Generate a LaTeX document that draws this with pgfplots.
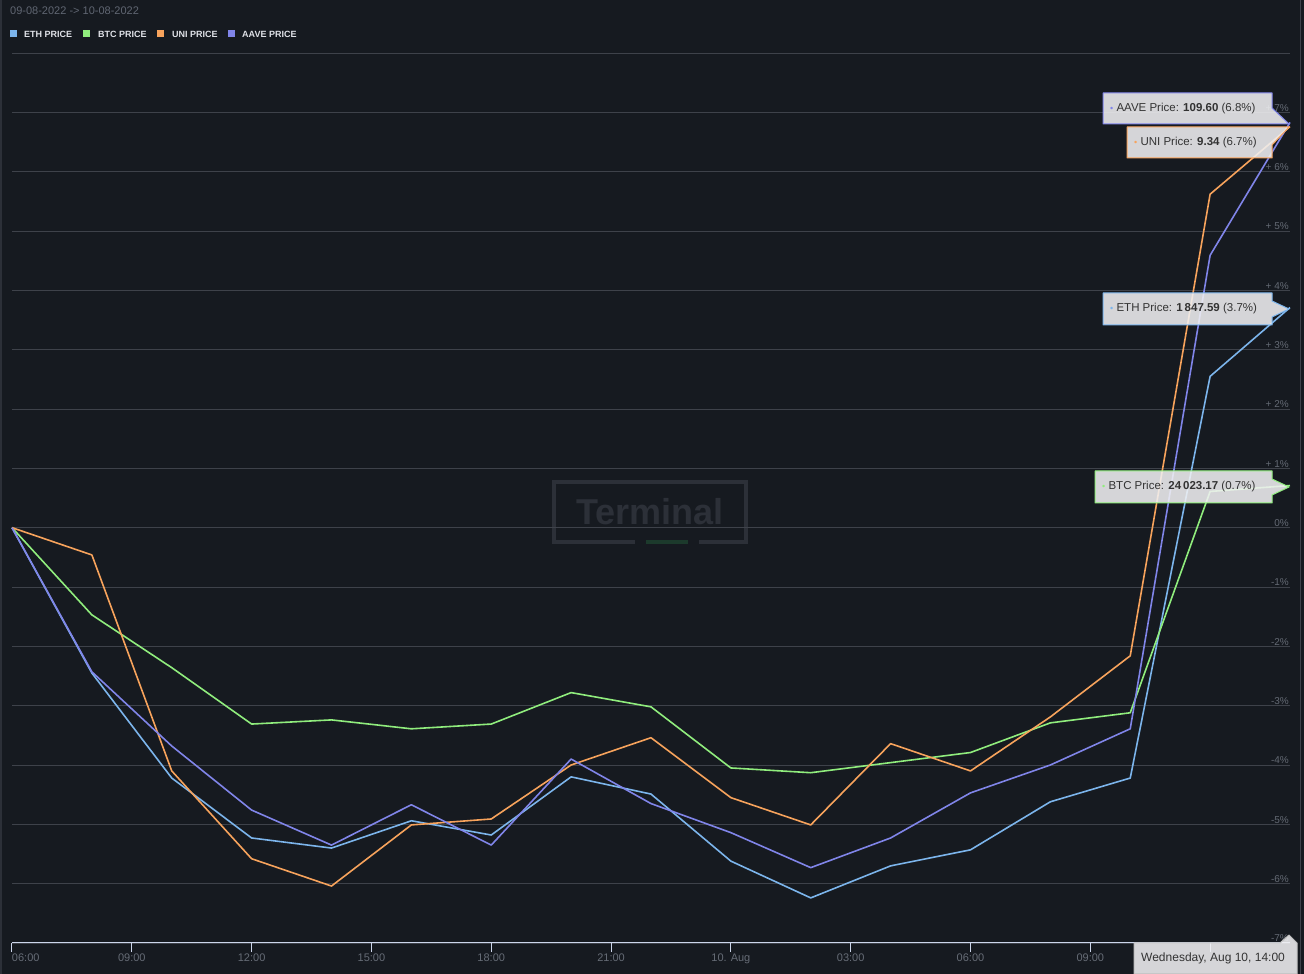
\documentclass[border=0pt]{standalone}
\usepackage{pgfplots}
\pgfplotsset{compat=1.18}
\usepackage{fontspec}
\setmainfont{Liberation Sans}
\definecolor{bg}{RGB}{22,26,32}
\definecolor{gridc}{RGB}{62,66,74}
\definecolor{axisc}{RGB}{204,214,235}
\definecolor{tickc}{RGB}{102,108,118}
\definecolor{ylabc}{RGB}{100,106,116}
\definecolor{titlec}{RGB}{96,102,114}
\definecolor{legc}{RGB}{224,226,232}
\definecolor{wm}{RGB}{44,48,56}
\definecolor{wmgreen}{RGB}{28,58,44}
\definecolor{ethc}{HTML}{7CB5EC}
\definecolor{btcc}{HTML}{90ED7D}
\definecolor{unic}{HTML}{F7A35C}
\definecolor{aavec}{HTML}{8085E9}
\definecolor{ttfill}{RGB}{240,240,242}
\definecolor{tttext}{RGB}{51,51,51}
\begin{document}
\begin{tikzpicture}[x=1pt,y=1pt,
  ylab/.style={anchor=south east, inner sep=1pt, text=ylabc, font=\fontsize{10}{12}\selectfont},
  tt/.style={fill=ttfill, fill opacity=0.88, text opacity=1, line width=1pt, line join=round},
  tttxt/.style={anchor=west, inner sep=0pt, text=tttext, font=\fontsize{11.5}{13}\selectfont}]
\fill[bg] (0,0) rectangle (1304,974);
\useasboundingbox (0,0) rectangle (1304,974);
% borders
\fill[wm] (0,0) rectangle (2,974);
\draw[gridc, line width=1pt] (1300.5,0) -- (1300.5,974);
% watermark
\draw[wm, line width=4pt] (635,432) -- (554,432) -- (554,492) -- (746,492) -- (746,432) -- (699,432);
\fill[wmgreen] (646,430) rectangle (688,434);
\node[text=wm, font=\fontsize{36}{36}\selectfont\bfseries, inner sep=0pt] at (650,462) {Terminal};
% title & legend
\node[anchor=base west, inner sep=0pt, text=titlec, font=\fontsize{11}{13}\selectfont] at (10,959) {09-08-2022 -> 10-08-2022};
\fill[ethc] (10,937) rectangle (17,944);
\node[anchor=base west, inner sep=0pt, text=legc, font=\fontsize{9}{11}\selectfont\bfseries] at (24,936) {ETH PRICE};
\fill[btcc] (83,937) rectangle (90,944);
\node[anchor=base west, inner sep=0pt, text=legc, font=\fontsize{9}{11}\selectfont\bfseries] at (98,936) {BTC PRICE};
\fill[unic] (157,937) rectangle (164,944);
\node[anchor=base west, inner sep=0pt, text=legc, font=\fontsize{9}{11}\selectfont\bfseries] at (172,936) {UNI PRICE};
\fill[aavec] (228,937) rectangle (235,944);
\node[anchor=base west, inner sep=0pt, text=legc, font=\fontsize{9}{11}\selectfont\bfseries] at (242,936) {AAVE PRICE};

\begin{axis}[
  at={(12pt,31pt)}, anchor=south west,
  scale only axis, width=1278pt, height=890pt,
  xmin=0, xmax=32, ymin=-7, ymax=8,
  clip=false,
  axis x line*=bottom, axis y line*=left,
  y axis line style={draw=none},
  x axis line style={-, draw=axisc, line width=1pt},
  xtick={0,3,...,30},
  xticklabels={\rlap{06:00},09:00,12:00,15:00,18:00,21:00,10. Aug,03:00,06:00,09:00,{}},
  xtick align=outside, major tick length=9pt,
  xtick style={draw=axisc, line width=1pt},
  xticklabel style={font=\fontsize{11}{13}\selectfont, text=tickc, inner sep=0pt, yshift=-2pt},
  ytick={-7,-6,...,8}, yticklabel={\relax}, ytick style={draw=none},
  ymajorgrids, grid style={gridc, line width=0.9pt},
  every axis plot/.append style={line width=1.6pt, line join=round, no markers},
]
\addplot[ethc] coordinates {(0,0) (2,-2.45) (4,-4.22) (6,-5.23) (8,-5.40) (10,-4.94) (12,-5.18) (14,-4.20) (16,-4.49) (18,-5.62) (20,-6.24) (22,-5.70) (24,-5.43) (26,-4.62) (28,-4.22) (30,2.55) (32,3.71)};
\addplot[btcc] coordinates {(0,0) (2,-1.47) (4,-2.36) (6,-3.31) (8,-3.24) (10,-3.39) (12,-3.31) (14,-2.78) (16,-3.02) (18,-4.05) (20,-4.13) (22,-3.96) (24,-3.79) (26,-3.29) (28,-3.12) (30,0.61) (32,0.71)};
\addplot[unic] coordinates {(0,0) (2,-0.46) (4,-4.10) (6,-5.58) (8,-6.04) (10,-5.01) (12,-4.91) (14,-4.00) (16,-3.54) (18,-4.55) (20,-5.01) (22,-3.64) (24,-4.10) (26,-3.19) (28,-2.16) (30,5.62) (32,6.76)};
\addplot[aavec] coordinates {(0,0) (2,-2.43) (4,-3.68) (6,-4.76) (8,-5.35) (10,-4.67) (12,-5.35) (14,-3.90) (16,-4.65) (18,-5.14) (20,-5.73) (22,-5.23) (24,-4.47) (26,-4.00) (28,-3.39) (30,4.59) (32,6.83)};
\node[ylab] at (axis cs:32,7) {+ 7\%};
\node[ylab] at (axis cs:32,6) {+ 6\%};
\node[ylab] at (axis cs:32,5) {+ 5\%};
\node[ylab] at (axis cs:32,4) {+ 4\%};
\node[ylab] at (axis cs:32,3) {+ 3\%};
\node[ylab] at (axis cs:32,2) {+ 2\%};
\node[ylab] at (axis cs:32,1) {+ 1\%};
\node[ylab] at (axis cs:32,0) {0\%};
\node[ylab] at (axis cs:32,-1) {-1\%};
\node[ylab] at (axis cs:32,-2) {-2\%};
\node[ylab] at (axis cs:32,-3) {-3\%};
\node[ylab] at (axis cs:32,-4) {-4\%};
\node[ylab] at (axis cs:32,-5) {-5\%};
\node[ylab] at (axis cs:32,-6) {-6\%};
\node[ylab] at (axis cs:32,-7) {-7\%};
\end{axis}
% tooltips
\draw[tt, draw=aavec] (1103,881) -- (1272,881) -- (1272,866) -- (1289,850) -- (1103,850) -- cycle;
\node[tttxt] at (1110,865.5) {\textcolor{aavec}{\fontsize{9}{10}\selectfont•} AAVE Price: \textbf{109.60} (6.8\%)};
\draw[tt, draw=unic] (1127,847) -- (1289,847) -- (1272,829) -- (1272,816) -- (1127,816) -- cycle;
\node[tttxt] at (1134,831.5) {\textcolor{unic}{\fontsize{9}{10}\selectfont•} UNI Price: \textbf{9.34} (6.7\%)};
\draw[tt, draw=ethc] (1103,681) -- (1272,681) -- (1272,673) -- (1289,665) -- (1272,657) -- (1272,649) -- (1103,649) -- cycle;
\node[tttxt] at (1110,665) {\textcolor{ethc}{\fontsize{9}{10}\selectfont•} ETH Price: \textbf{1\,847.59} (3.7\%)};
\draw[tt, draw=btcc] (1095,503) -- (1272,503) -- (1272,495) -- (1289,487) -- (1272,479) -- (1272,471) -- (1095,471) -- cycle;
\node[tttxt] at (1102,487) {\textcolor{btcc}{\fontsize{9}{10}\selectfont•} BTC Price: \textbf{24\,023.17} (0.7\%)};
\draw[tt, draw=gray!50] (1134,0) -- (1134,31) -- (1280,31) -- (1289,39) -- (1297,31) -- (1297,0) -- cycle;
\node[tttxt, font=\fontsize{12}{14}\selectfont] at (1141,16) {Wednesday, Aug 10, 14:00};
\end{tikzpicture}
\end{document}
